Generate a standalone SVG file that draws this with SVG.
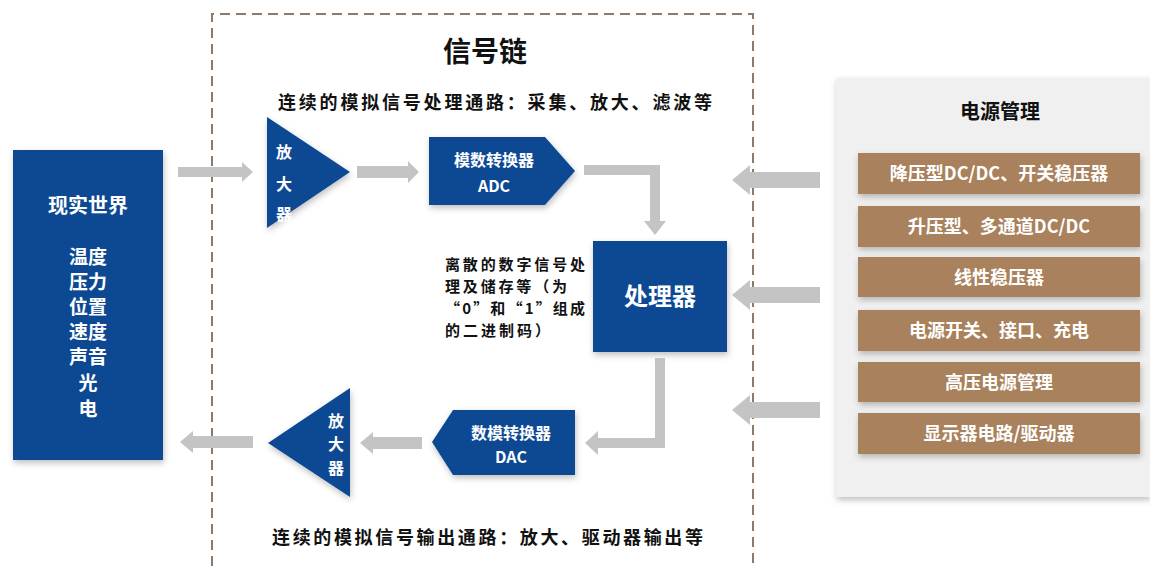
<svg xmlns="http://www.w3.org/2000/svg" width="1150" height="566" viewBox="0 0 1150 566">
<style>
text{font-family:"Noto Sans CJK SC","Noto Sans",sans-serif;}
.blue{fill:#0d4a93;}
.w{fill:#ffffff;font-weight:bold;text-anchor:middle;}
.k{fill:#111111;font-weight:bold;}
.arr{fill:#c4c4c4;}
.brown{fill:#a9815b;}
</style>
<defs>
<filter id="sh" x="-20%" y="-20%" width="140%" height="140%">
<feDropShadow dx="1" dy="3" stdDeviation="3" flood-color="#000" flood-opacity="0.25"/>
</filter>
</defs>
<rect width="1150" height="566" fill="#ffffff"/>
<g id="signal-chain-frame">
<path d="M212,566 V14 H753 V566" fill="none" stroke="#8c7b69" stroke-width="2" stroke-dasharray="10,6"/>
<text x="485" y="62" font-size="28" font-weight="bold" text-anchor="middle" fill="#111">信号链</text>
<text x="278" y="109" font-size="18" class="k" textLength="434" lengthAdjust="spacing">连续的模拟信号处理通路：采集、放大、滤波等</text>
<text x="272" y="544" font-size="18" class="k" textLength="431" lengthAdjust="spacing">连续的模拟信号输出通路：放大、驱动器输出等</text>
</g>
<g id="real-world">
<rect x="13" y="150" width="150" height="310" class="blue" filter="url(#sh)"/>
<text class="w" font-size="20" x="88" y="213">现实世界</text>
<text class="w" font-size="19" x="88" y="264">温度</text>
<text class="w" font-size="19" x="88" y="289">压力</text>
<text class="w" font-size="19" x="88" y="314">位置</text>
<text class="w" font-size="19" x="88" y="339">速度</text>
<text class="w" font-size="19" x="88" y="364">声音</text>
<text class="w" font-size="19" x="88" y="390">光</text>
<text class="w" font-size="19" x="88" y="416">电</text>
</g>
<g id="amp-in">
<polygon points="267,117 350,172 267,228" class="blue" filter="url(#sh)"/>
<text class="w" font-size="16" x="284" y="158">放</text>
<text class="w" font-size="16" x="284" y="190">大</text>
<text class="w" font-size="16" x="284" y="220">器</text>
</g>
<g id="adc">
<polygon points="429,137 545,137 575,171 545,205 429,205" class="blue" filter="url(#sh)"/>
<text class="w" font-size="16" x="494" y="166">模数转换器</text>
<text class="w" font-size="16" x="494" y="192">ADC</text>
</g>
<g id="processor">
<rect x="593" y="241" width="134" height="111" class="blue" filter="url(#sh)"/>
<text class="w" font-size="24" x="660" y="305">处理器</text>
</g>
<g id="processor-note">
<text class="k" font-size="15" x="445" y="270" textLength="140" lengthAdjust="spacing">离散的数字信号处</text>
<text class="k" font-size="15" x="445" y="292" textLength="122" lengthAdjust="spacing">理及储存等（为</text>
<text class="k" font-size="15" x="445" y="314" textLength="140" lengthAdjust="spacing">“0”和“1”组成</text>
<text class="k" font-size="15" x="445" y="336" textLength="105" lengthAdjust="spacing">的二进制码）</text>
</g>
<g id="dac">
<polygon points="432,442 453,410 575,410 575,475 453,475" class="blue" filter="url(#sh)"/>
<text class="w" font-size="16" x="511" y="439">数模转换器</text>
<text class="w" font-size="16" x="511" y="463">DAC</text>
</g>
<g id="amp-out">
<polygon points="268,443 350,388 350,497" class="blue" filter="url(#sh)"/>
<text class="w" font-size="16" x="336" y="427">放</text>
<text class="w" font-size="16" x="336" y="450">大</text>
<text class="w" font-size="16" x="336" y="474">器</text>
</g>
<g id="power-management">
<rect x="836" y="78" width="314" height="419" fill="#f0f0f0" filter="url(#sh)"/>
<text x="1000" y="119" font-size="20" class="k" text-anchor="middle">电源管理</text>
<g class="pm-item">
<rect x="858" y="153" width="282" height="41" class="brown" filter="url(#sh)"/>
<text class="w" font-size="18" x="999" y="180">降压型DC/DC、开关稳压器</text>
</g>
<g class="pm-item">
<rect x="858" y="206" width="282" height="41" class="brown" filter="url(#sh)"/>
<text class="w" font-size="18" x="999" y="233">升压型、多通道DC/DC</text>
</g>
<g class="pm-item">
<rect x="858" y="257" width="282" height="40" class="brown" filter="url(#sh)"/>
<text class="w" font-size="18" x="999" y="284">线性稳压器</text>
</g>
<g class="pm-item">
<rect x="858" y="310" width="282" height="41" class="brown" filter="url(#sh)"/>
<text class="w" font-size="18" x="999" y="337">电源开关、接口、充电</text>
</g>
<g class="pm-item">
<rect x="858" y="362" width="282" height="40" class="brown" filter="url(#sh)"/>
<text class="w" font-size="18" x="999" y="389">高压电源管理</text>
</g>
<g class="pm-item">
<rect x="858" y="413" width="282" height="41" class="brown" filter="url(#sh)"/>
<text class="w" font-size="18" x="999" y="440">显示器电路/驱动器</text>
</g>
</g>
<g id="connectors">
<polygon class="arr" points="178,167 242,167 242,162 253,172 242,182 242,177 178,177"/>
<polygon class="arr" points="357,166 408,166 408,161 419,172 408,183 408,178 357,178"/>
<polygon class="arr" points="584,165 660,165 660,221 666,221 655,235 644,221 650,221 650,175 584,175"/>
<polygon class="arr" points="820,172 750,172 750,165 732,180 750,195 750,188 820,188"/>
<polygon class="arr" points="820,287 750,287 750,280 732,295 750,310 750,303 820,303"/>
<polygon class="arr" points="820,402 750,402 750,395 732,410 750,425 750,418 820,418"/>
<polygon class="arr" points="655,358 665,358 665,448 598,448 598,455 585,443 598,431 598,438 655,438"/>
<polygon class="arr" points="422,437 373,437 373,432 360,443 373,454 373,449 422,449"/>
<polygon class="arr" points="253,436 193,436 193,431 180,442 193,453 193,448 253,448"/>
</g>
</svg>
